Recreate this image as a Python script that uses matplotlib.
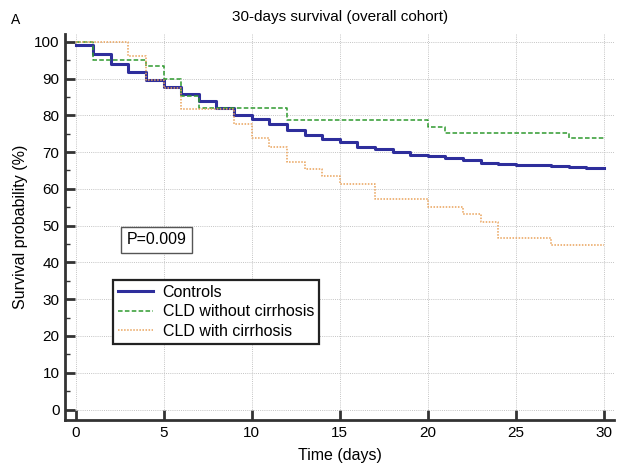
import matplotlib.pyplot as plt
from matplotlib.ticker import MultipleLocator

plt.rcParams["font.family"] = ["Liberation Sans", "DejaVu Sans"]

# step times (days) and survival (%) for each group
ctrl_days = [0, 1, 2, 3, 4, 5, 6, 7, 8, 9, 10, 11, 12, 13, 14, 15, 16, 17,
             18, 19, 20, 21, 22, 23, 24, 25, 27, 28, 29, 30]
ctrl_surv = [99.2, 96.6, 93.9, 91.7, 89.7, 87.6, 85.9, 83.9, 82.1, 80.1,
             78.9, 77.5, 75.9, 74.7, 73.5, 72.6, 71.4, 70.8, 70.0, 69.3,
             68.9, 68.5, 67.9, 67.1, 66.8, 66.5, 66.3, 66.0, 65.7, 65.7]

nocirr_days = [0, 1, 4, 5, 6, 7, 12, 20, 21, 28, 30]
nocirr_surv = [100, 95.1, 93.4, 90.0, 85.2, 81.9, 78.7, 76.9, 75.3, 73.8, 73.8]

cirr_days = [0, 3, 4, 5, 6, 9, 10, 11, 12, 13, 14, 15, 17, 20, 22, 23, 24,
             27, 30]
cirr_surv = [100, 96.1, 89.6, 87.5, 81.7, 77.5, 73.7, 71.4, 67.3, 65.5, 63.4,
             61.3, 57.2, 55.1, 53.2, 51.1, 46.7, 44.8, 44.8]

fig = plt.figure(figsize=(6.17, 4.71), dpi=100)
ax = fig.add_axes([65 / 617, 1 - 420 / 471, 549 / 617, 386 / 471])

ax.step(ctrl_days, ctrl_surv, where="post", color="#2e2e9c", lw=2.2,
        label="Controls", zorder=3)
ax.step(nocirr_days, nocirr_surv, where="post", color="#2f9a2f", lw=1.1,
        ls=(0, (3, 1.5)), label="CLD without cirrhosis", zorder=4)
ax.step(cirr_days, cirr_surv, where="post", color="#e9a25a", lw=1.1,
        ls=(0, (1, 1)), label="CLD with cirrhosis", zorder=4)

ax.set_xlim(-0.6, 30.57)
ax.set_ylim(-2.85, 102.1)
ax.yaxis.set_minor_locator(MultipleLocator(5))
ax.set_xticks(range(0, 31, 5))
ax.set_yticks(range(0, 101, 10))

ax.grid(True, which="major", color="#c4c4c4", ls=(0, (1, 1.2)), lw=0.7)
ax.set_axisbelow(True)

for side in ["top", "right"]:
    ax.spines[side].set_visible(False)
for side in ["left", "bottom"]:
    ax.spines[side].set_linewidth(2)
    ax.spines[side].set_color("#333333")

ax.tick_params(which="major", direction="in", length=7, width=2,
               color="#333333", labelsize=11, pad=4)
ax.tick_params(which="minor", direction="in", length=3.5, width=1,
               color="#333333")
ax.tick_params(axis="x", which="minor", length=0)

ax.set_xlabel("Time (days)", fontsize=11.5, labelpad=6)
ax.set_ylabel("Survival probability (%)", fontsize=11.5, labelpad=4)

fig.text(340 / 617, 1 - 17 / 471, "30-days survival (overall cohort)",
         ha="center", va="center", fontsize=11)
fig.text(11 / 617, 1 - 20 / 471, "A", ha="left", va="center", fontsize=10)

fig.text(156.5 / 617, 1 - 240 / 471, "P=0.009", ha="center", va="center",
         fontsize=11.5,
         bbox=dict(boxstyle="square,pad=0.35", fc="white", ec="#555555",
                   lw=1))

leg = ax.legend(loc="upper left", bbox_to_anchor=(113 / 617, 1 - 280 / 471),
                bbox_transform=fig.transFigure, fontsize=11.5, frameon=True,
                fancybox=False, edgecolor="#222222", framealpha=1,
                handlelength=2.2, handletextpad=0.6, borderpad=0.3,
                labelspacing=0.28, borderaxespad=0)
leg.get_frame().set_linewidth(1.6)

fig.savefig("out.png", dpi=100)
